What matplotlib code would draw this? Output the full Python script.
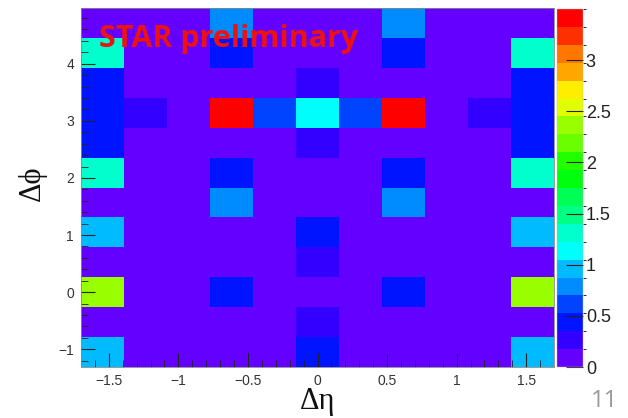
import matplotlib
matplotlib.use("Agg")
import matplotlib.pyplot as plt
import numpy as np
import colorsys
from matplotlib.colors import ListedColormap, BoundaryNorm

# bin edges of the 2D histogram
deta_edges = np.linspace(-1.7, 1.7, 12)
dphi_edges = (np.arange(13) - 2.5) * np.pi / 6

# bin contents, rows from bottom (dphi = -pi/3) to top (dphi = 3pi/2), 11 deta columns
b = 0.05
counts = [
    [0.96, b, b, b, b, 0.44, b, b, b, b, 0.96],      # -pi/3
    [b, b, b, b, b, 0.26, b, b, b, b, b],            # -pi/6
    [2.36, b, b, 0.44, b, b, b, 0.44, b, b, 2.36],   # 0
    [b, b, b, b, b, 0.26, b, b, b, b, b],            # pi/6
    [0.96, b, b, b, b, 0.44, b, b, b, b, 0.96],      # pi/3
    [b, b, b, 0.79, b, b, b, 0.79, b, b, b],         # pi/2
    [1.31, b, b, 0.44, b, b, b, 0.44, b, b, 1.31],   # 2pi/3
    [0.44, b, b, b, b, 0.26, b, b, b, b, 0.44],      # 5pi/6
    [0.44, 0.26, b, 3.5, 0.61, 1.14, 0.61, 3.5, b, 0.26, 0.44],  # pi
    [0.44, b, b, b, b, 0.26, b, b, b, b, 0.44],      # 7pi/6
    [1.31, b, b, 0.44, b, b, b, 0.44, b, b, 1.31],   # 4pi/3
    [b, b, b, 0.79, b, b, b, 0.79, b, b, b],         # 3pi/2
]
zmax = 3.5
nlev = 20

# ROOT "pretty" palette: 50 HLS colours violet -> red
pretty = []
for i in range(49):
    hue = 280 - (i + 1) * 280 / 50
    pretty.append(colorsys.hls_to_rgb(hue / 360, 0.5, 1.0))
pretty.append((1.0, 0.0, 0.0))
cols = [pretty[int((k + 0.99) * 50 / nlev)] for k in range(nlev)]
cmap = ListedColormap(cols)
norm = BoundaryNorm(np.linspace(0, zmax, nlev + 1), nlev)

fig = plt.figure(figsize=(6.28, 4.18), dpi=100)
ax = fig.add_axes([81 / 628, 1 - 367 / 418, 473 / 628, 359 / 418])
mesh = ax.pcolormesh(deta_edges, dphi_edges, np.array(counts), cmap=cmap, norm=norm)

ax.set_xlim(deta_edges[0], deta_edges[-1])
ax.set_ylim(dphi_edges[0], dphi_edges[-1])
ax.set_xticks([-1.5, -1, -0.5, 0, 0.5, 1, 1.5])
ax.set_xticklabels(["\u22121.5", "\u22121", "\u22120.5", "0", "0.5", "1", "1.5"])
ax.set_yticks([-1, 0, 1, 2, 3, 4])
ax.set_yticklabels(["\u22121", "0", "1", "2", "3", "4"])
ax.set_xticks(np.arange(-1.6, 1.7, 0.1), minor=True)
ax.set_yticks(np.arange(-1.2, 5.0, 0.2), minor=True)
ax.tick_params(which="both", direction="in", colors="#222222", labelcolor="#333333")
ax.tick_params(which="major", length=10, width=0.8, labelsize=10, pad=5)
ax.tick_params(which="minor", length=5, width=0.6)
for lab in ax.get_xticklabels() + ax.get_yticklabels():
    lab.set_family("Liberation Sans")
for s in ax.spines.values():
    s.set_linewidth(0.6)
    s.set_color("#888888")

ax.text(0.037, 0.915, "STAR preliminary", transform=ax.transAxes, color="#ee1111",
        fontsize=22, fontweight="bold", family="Open Sans", va="center", ha="left")

fig.text(32 / 628, 1 - 183 / 418, "\u0394\u03d5", rotation=90, fontsize=22,
         family=["Liberation Serif", "DejaVu Serif"], ha="center", va="center",
         color="#111111")
fig.text(318 / 628, 1 - 402 / 418, "\u0394\u03b7", fontsize=22,
         family=["Liberation Serif", "DejaVu Serif"], ha="center", va="center",
         color="#111111")
fig.text(604 / 628, 1 - 401 / 418, "11", fontsize=17, family="Open Sans",
         ha="center", va="center", color="#9a9a9a")

cax = fig.add_axes([557 / 628, 1 - 367 / 418, 26 / 628, 358 / 418])
cb = fig.colorbar(mesh, cax=cax, ticks=[0, 0.5, 1, 1.5, 2, 2.5, 3])
cb.outline.set_linewidth(0.3)
cb.outline.set_edgecolor("#bbbbbb")
cax.set_yticklabels(["0", "0.5", "1", "1.5", "2", "2.5", "3"])
cax.tick_params(direction="in", length=12, width=0.8, labelsize=13, pad=2,
                colors="#222222")
for lab in cax.get_yticklabels():
    lab.set_family("Liberation Sans")

fig.savefig("out.png", dpi=100)
